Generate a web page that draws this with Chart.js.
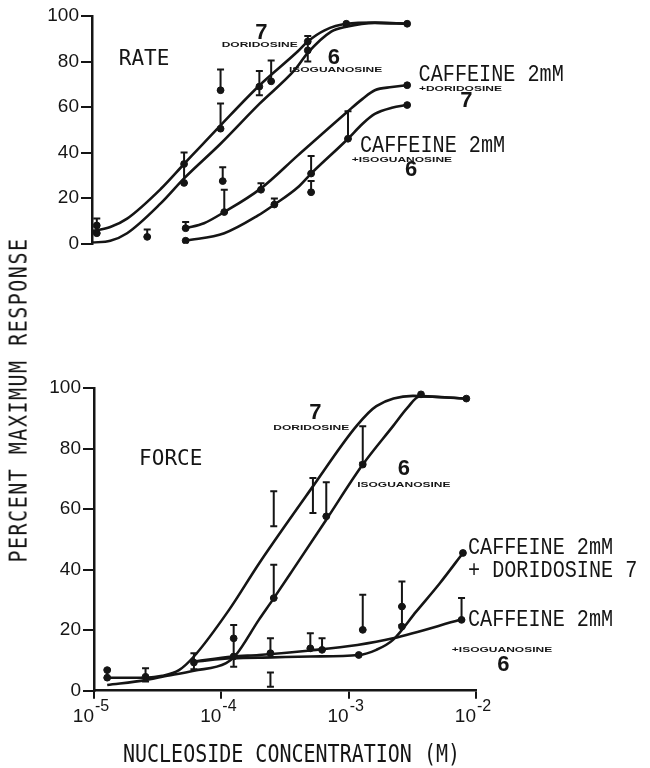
<!DOCTYPE html>
<html>
<head>
<meta charset="utf-8">
<script src="https://cdn.jsdelivr.net/npm/chart.js@4/dist/chart.umd.min.js"></script>
<style>
  html, body { margin: 0; padding: 0; background: #fff; }
  #page { position: relative; width: 650px; height: 768px; overflow: hidden; }
  .box { position: absolute; left: 0; width: 650px; }
  #xtitle, #ytitle {
    position: absolute; font-family: "DejaVu Sans Mono", monospace; font-size: 20px;
    line-height: 24px; color: #151515; text-align: center; white-space: nowrap;
  }
  #xtitle { left: 0; width: 583px; top: 742px; transform: scaleY(1.2); }
  #ytitle { left: -182px; width: 400px; top: 388px; letter-spacing: 1.5px; transform: rotate(-90deg) scaleY(1.2); }
</style>
</head>
<body>
<div id="page">
  <div class="box" style="top:0;height:340px"><canvas id="rate"></canvas></div>
  <div class="box" style="top:370px;height:398px"><canvas id="force"></canvas></div>
  <div id="ytitle">PERCENT MAXIMUM RESPONSE</div>
  <div id="xtitle">NUCLEOSIDE CONCENTRATION (M)</div>
</div>
<script>
// log x axis, decade ticks only
const X_MIN = 1e-5
const X_MAX = 1e-2
const xTicks = [1e-5, 1e-4, 1e-3, 1e-2]

// RATE panel — fitted curves
const rateDorX = [1.0e-5, 1.39e-5, 1.88e-5, 3.44e-5, 5.24e-5, 1.01e-4, 2.03e-4, 4.06e-4, 4.85e-4, 6.56e-4, 9.7e-4, 1.62e-3, 2.9e-3]
const rateDorY = [5.5, 7.3, 11, 24, 35, 52, 69.5, 84.5, 88.8, 93.7, 96.6, 97.1, 96.6]
const rateIsoX = [1.0e-5, 1.39e-5, 1.88e-5, 3.44e-5, 5.24e-5, 1.01e-4, 2.03e-4, 3.82e-4, 4.85e-4, 7.39e-4, 9.7e-4, 1.62e-3, 2.9e-3]
const rateIsoY = [0.5, 1.3, 4.6, 17.7, 28.7, 43.9, 61.4, 76.2, 83.8, 93.1, 95.3, 97, 96.6]
const rateCafDorX = [5.39e-5, 7.5e-5, 1.08e-4, 2.09e-4, 4.06e-4, 1.0e-3, 1.3e-3, 1.62e-3, 2.2e-3, 2.9e-3]
const rateCafDorY = [6.8, 9, 13.9, 24.3, 38.8, 58.2, 63.6, 67.4, 68.8, 69.6]
const rateCafIsoX = [5.39e-5, 1.08e-4, 1.97e-4, 2.66e-4, 4.06e-4, 5.15e-4, 1.0e-3, 1.3e-3, 1.62e-3, 2.2e-3, 2.9e-3]
const rateCafIsoY = [1.3, 4.6, 12.3, 17.2, 24.8, 30.8, 46.1, 52.7, 57, 59.7, 60.9]

// RATE panel — measured points and error bars
const ratePtX = [1.09e-5, 1.09e-5, 2.7e-5, 5.24e-5, 5.24e-5, 1.01e-4, 1.01e-4, 2.03e-4, 2.51e-4, 4.85e-4, 4.85e-4, 9.7e-4, 2.9e-3,
                 5.39e-5, 5.39e-5, 1.05e-4, 1.08e-4, 2.09e-4, 2.66e-4, 5.15e-4, 5.15e-4, 1.0e-3, 2.9e-3, 2.9e-3]
const ratePtY = [8, 4.6, 3, 35, 26.7, 67.4, 50.5, 69, 71.3, 88.8, 84.9, 96.6, 96.6,
                 6.8, 1.3, 27.5, 13.9, 23.7, 17.2, 30.8, 22.6, 46.1, 69.6, 60.9]
const rateErrX = [1.09e-5, 2.7e-5, 5.24e-5, 1.01e-4, 1.01e-4, 2.03e-4, 2.51e-4, 4.85e-4,
                  5.39e-5, 1.05e-4, 1.08e-4, 2.09e-4, 2.66e-4, 5.15e-4, 5.15e-4, 1.0e-3]
const rateErrLo = [4.6, 3.0, 26.7, 67.4, 50.5, 65.2, 71.3, 80, 6.8, 27.5, 13.9, 23.7, 17.2, 30.8, 22.6, 46.1]
const rateErrHi = [11.1, 6.2, 40.1, 76.5, 61.6, 75.9, 80.5, 91.2, 9.5, 33.6, 23.7, 26.5, 19.9, 38.5, 27.5, 58.2]

// FORCE panel — fitted curves
const forceDorX = [1.27e-5, 2.54e-5, 3.44e-5, 4.65e-5, 6.09e-5, 1.15e-4, 1.99e-4, 5.24e-4, 1.15e-3, 1.65e-3, 3.2e-3, 8.4e-3]
const forceDorY = [4.3, 4.3, 4.9, 6.8, 11.3, 26.7, 42.2, 67.5, 87.4, 94.0, 97.4, 96.5]
const forceIsoX = [1.27e-5, 2.54e-5, 3.44e-5, 6.09e-5, 1.09e-4, 1.3e-4, 1.97e-4, 2.53e-4, 3.59e-4, 6.67e-4, 1.29e-3, 2.23e-3, 2.9e-3, 3.6e-3, 8.4e-3]
const forceIsoY = [1.9, 3.5, 4.6, 6.6, 9.1, 11.8, 23.4, 30, 39.5, 56.5, 74.7, 87.4, 93.5, 97.2, 96.5]
const forceCafDorX = [6.09e-5, 1.22e-4, 2.5e-4, 5.0e-4, 1.2e-3, 1.65e-3, 2.23e-3, 3.4e-3, 5.2e-3, 7.9e-3]
const forceCafDorY = [9.6, 10.7, 11.0, 11.3, 11.8, 13.5, 16.8, 26.2, 35.5, 45.5]
const forceCafIsoX = [6.09e-5, 1.22e-4, 1.97e-4, 5.0e-4, 1.17e-3, 2.23e-3, 7.5e-3]
const forceCafIsoY = [9.6, 11.3, 11.8, 13.3, 15.1, 17.3, 23.4]

// FORCE panel — measured points and error bars
const forcePtX = [1.27e-5, 1.27e-5, 2.54e-5, 6.09e-5, 1.25e-4, 1.25e-4, 2.58e-4, 2.43e-4, 5.0e-4, 6.67e-4, 6.18e-4,
                  1.29e-3, 1.29e-3, 1.2e-3, 2.62e-3, 2.62e-3, 7.7e-3, 7.9e-3, 3.7e-3, 8.4e-3]
const forcePtY = [6.8, 4.3, 4.6, 9.3, 17.3, 11.3, 30.6, 12.4, 14, 57.6, 13.5,
                  74.7, 20.1, 11.8, 27.8, 21.2, 23.4, 45.5, 97.9, 96.5]
const forceErrX = [1.27e-5, 2.54e-5, 6.09e-5, 1.25e-4, 2.58e-4, 2.58e-4, 2.43e-4, 2.43e-4, 5.24e-4, 5.0e-4,
                   6.67e-4, 6.18e-4, 1.29e-3, 1.29e-3, 2.62e-3, 2.62e-3, 7.7e-3]
const forceErrLo = [4.3, 3.0, 7.1, 7.9, 54.3, 30.6, 12.4, 1.3, 58.7, 14, 57.6, 13.5, 75.3, 20.1, 27.8, 21.7, 23.4]
const forceErrHi = [7.0, 7.4, 12.4, 21.7, 65.9, 41.6, 17.3, 6.0, 70.3, 19, 68.9, 17.3, 87.4, 31.7, 36.1, 27.8, 30.6]

const INK = '#151515'
const BIG = 'bold 22px "Liberation Sans", Arial, sans-serif'
const TINY = 'bold 7.5px "Liberation Sans", Arial, sans-serif'
const TYPE = '24px "Liberation Mono", "Courier New", monospace'
const PANEL = '21px "DejaVu Sans Mono", monospace'

// text annotations, anchored in data space
const rateNotes = [
  { text: 'RATE', x: 1.62e-5, y: 80.9, font: PANEL, align: 'left' },
  { text: '7', x: 2.1e-4, y: 92.7, font: BIG },
  { text: 'DORIDOSINE', x: 2.04e-4, y: 87.3, font: TINY, sx: 1.6 },
  { text: '6', x: 7.76e-4, y: 81.5, font: BIG },
  { text: 'ISOGUANOSINE', x: 8.0e-4, y: 76.1, font: TINY, sx: 1.6 },
  { text: 'CAFFEINE 2mM', x: 3.56e-3, y: 74.3, font: TYPE, align: 'left', sx: 0.84 },
  { text: '+DORIDOSINE', x: 3.58e-3, y: 67.9, font: TINY, align: 'left', sx: 1.6 },
  { text: '7', x: 8.4e-3, y: 62.5, font: BIG },
  { text: 'CAFFEINE 2mM', x: 1.24e-3, y: 43.2, font: TYPE, align: 'left', sx: 0.84 },
  { text: '+ISOGUANOSINE', x: 1.07e-3, y: 37, font: TINY, align: 'left', sx: 1.6 },
  { text: '6', x: 3.11e-3, y: 32.4, font: BIG }
]
const forceNotes = [
  { text: 'FORCE', x: 2.26e-5, y: 76.4, font: PANEL, align: 'left' },
  { text: '7', x: 5.47e-4, y: 91.8, font: BIG },
  { text: 'DORIDOSINE', x: 5.08e-4, y: 86.7, font: TINY, sx: 1.6 },
  { text: '6', x: 2.71e-3, y: 73.4, font: BIG },
  { text: 'ISOGUANOSINE', x: 2.71e-3, y: 68, font: TINY, sx: 1.6 },
  { text: 'CAFFEINE 2mM', x: 8.65e-3, y: 47.3, font: TYPE, align: 'left', sx: 0.84 },
  { text: '+ DORIDOSINE 7', x: 8.65e-3, y: 39.5, font: TYPE, align: 'left', sx: 0.84 },
  { text: 'CAFFEINE 2mM', x: 8.65e-3, y: 23.4, font: TYPE, align: 'left', sx: 0.84 },
  { text: '+ISOGUANOSINE', x: 6.46e-3, y: 13.5, font: TINY, align: 'left', sx: 1.6 },
  { text: '6', x: 1.64e-2, y: 8.5, font: BIG }
]

function xy(xs, ys) {
  return xs.map((x, i) => ({ x, y: ys[i] }))
}

function curve(xs, ys) {
  return {
    type: 'line',
    data: xy(xs, ys),
    borderColor: INK,
    borderWidth: 2.6,
    pointRadius: 0,
    cubicInterpolationMode: 'monotone',
    fill: false
  }
}

function dots(xs, ys) {
  return {
    type: 'scatter',
    data: xy(xs, ys),
    pointRadius: 3.4,
    pointBackgroundColor: INK,
    pointBorderColor: INK,
    showLine: false
  }
}

// vertical I-bars with caps
const errorBars = {
  id: 'errorBars',
  afterDatasetsDraw(chart, args, opts) {
    const { ctx, scales: { x, y } } = chart
    ctx.save()
    ctx.strokeStyle = INK
    ctx.lineWidth = 2
    opts.xs.forEach((v, i) => {
      const px = x.getPixelForValue(v)
      const top = y.getPixelForValue(opts.hi[i])
      const bot = y.getPixelForValue(opts.lo[i])
      ctx.beginPath()
      ctx.moveTo(px, top); ctx.lineTo(px, bot)
      ctx.moveTo(px - 3.5, top); ctx.lineTo(px + 3.5, top)
      ctx.moveTo(px - 3.5, bot); ctx.lineTo(px + 3.5, bot)
      ctx.stroke()
    })
    ctx.restore()
  }
}

const notes = {
  id: 'notes',
  afterDraw(chart, args, opts) {
    const { ctx, scales: { x, y } } = chart
    ctx.save()
    ctx.fillStyle = INK
    ctx.textBaseline = 'middle'
    opts.items.forEach(n => {
      ctx.save()
      ctx.translate(x.getPixelForValue(n.x), y.getPixelForValue(n.y))
      ctx.scale(n.sx || 1, 1)
      ctx.font = n.font
      ctx.textAlign = n.align || 'center'
      ctx.fillText(n.text, 0, 0)
      ctx.restore()
    })
    ctx.restore()
  }
}

// "10" with a raised exponent under each decade tick
const expTicks = {
  id: 'expTicks',
  afterDraw(chart) {
    const { ctx, scales: { x } } = chart
    const base = x.top + 31
    ctx.save()
    ctx.fillStyle = INK
    ctx.textBaseline = 'alphabetic'
    x.ticks.forEach(t => {
      const px = x.getPixelForValue(t.value)
      ctx.font = '19px "Liberation Sans", Arial, sans-serif'
      ctx.textAlign = 'right'
      ctx.fillText('10', px, base)
      ctx.font = '16px "Liberation Sans", Arial, sans-serif'
      ctx.textAlign = 'left'
      ctx.fillText('-' + Math.round(-Math.log10(t.value)), px + 1, base - 11)
    })
    ctx.restore()
  }
}

function yScale(width) {
  return {
    min: 0,
    max: 100,
    ticks: { stepSize: 20, color: INK, padding: 2, font: { family: 'Liberation Sans', size: 19 } },
    grid: { drawOnChartArea: false, drawTicks: true, tickLength: 11, color: INK, lineWidth: 2 },
    border: { color: INK, width: 2.5 },
    afterFit: s => { s.width = width }
  }
}

function xScale(show) {
  return {
    type: 'logarithmic',
    min: X_MIN,
    max: X_MAX,
    display: show,
    afterBuildTicks: s => { s.ticks = xTicks.map(v => ({ value: v })) },
    ticks: { display: false },
    grid: { drawOnChartArea: false, drawTicks: true, tickLength: 8, color: INK, lineWidth: 2 },
    border: { color: INK, width: 2.5 },
    afterFit: s => { s.height = 77.3 }
  }
}

function panel(canvasId, datasets, padding, yWidth, showX, items, errX, errLo, errHi, extra) {
  const ctx = document.getElementById(canvasId).getContext('2d')
  return new Chart(ctx, {
    data: { datasets },
    options: {
      responsive: true,
      maintainAspectRatio: false,
      animation: false,
      layout: { padding },
      plugins: {
        legend: { display: false },
        tooltip: { enabled: false },
        errorBars: { xs: errX, lo: errLo, hi: errHi },
        notes: { items }
      },
      scales: { x: xScale(showX), y: yScale(yWidth) }
    },
    plugins: [errorBars, notes].concat(extra)
  })
}

panel('rate', [
  curve(rateDorX, rateDorY),
  curve(rateIsoX, rateIsoY),
  curve(rateCafDorX, rateCafDorY),
  curve(rateCafIsoX, rateCafIsoY),
  dots(ratePtX, ratePtY)
], { top: 16, right: 174, bottom: 19, left: 0 }, 92, false, rateNotes, rateErrX, rateErrLo, rateErrHi, [])

panel('force', [
  curve(forceDorX, forceDorY),
  curve(forceIsoX, forceIsoY),
  curve(forceCafDorX, forceCafDorY),
  curve(forceCafIsoX, forceCafIsoY),
  dots(forcePtX, forcePtY)
], { top: 18, right: 174, bottom: 0, left: 0 }, 94, true, forceNotes, forceErrX, forceErrLo, forceErrHi, [expTicks])
</script>
</body>
</html>
